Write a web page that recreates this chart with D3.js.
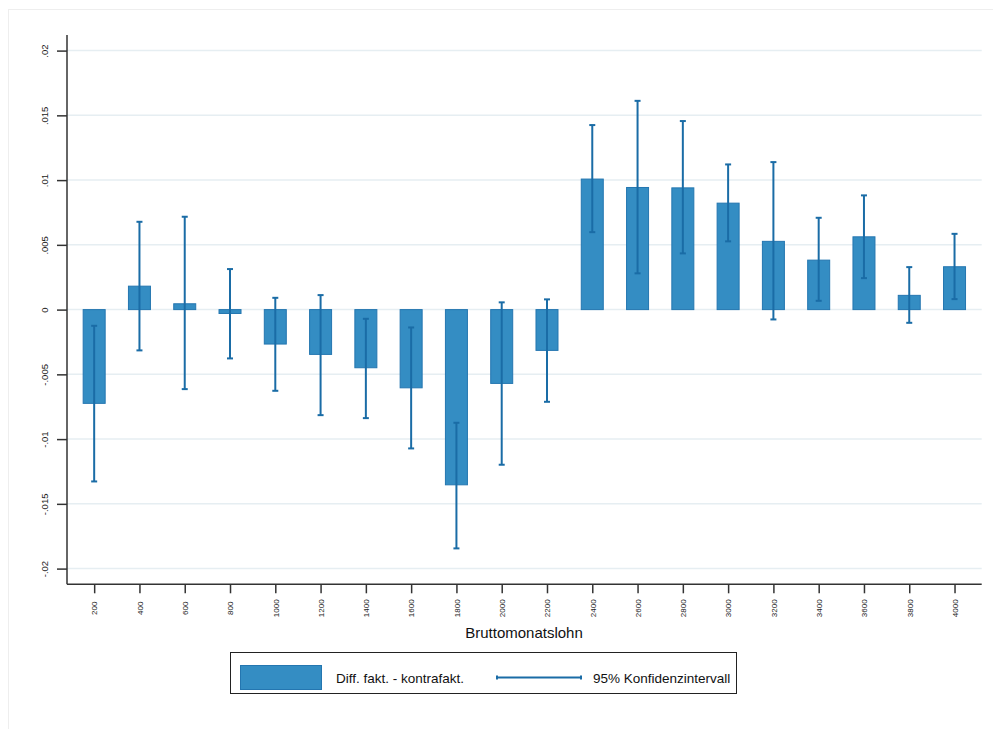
<!DOCTYPE html>
<html><head><meta charset="utf-8">
<script src="https://cdn.jsdelivr.net/npm/d3@7"></script>
<style>body{margin:0;background:#fff}svg{display:block;font-family:"Liberation Sans",Arial,sans-serif}</style>
</head><body>
<script>
const categories = ["200","400","600","800","1000","1200","1400","1600","1800","2000","2200","2400","2600","2800","3000","3200","3400","3600","3800","4000"];
const diffValues = [-0.00724,0.00181,0.00045,-0.0003,-0.00266,-0.00346,-0.00449,-0.00604,-0.01353,-0.0057,-0.00315,0.01008,0.00943,0.0094,0.00822,0.00527,0.00382,0.00562,0.0011,0.00331];
const ciUpper = [-0.00125,0.00678,0.00717,0.00313,0.00091,0.00112,-0.00071,-0.00138,-0.00874,0.00056,0.00079,0.01425,0.01612,0.01456,0.01121,0.01139,0.00709,0.00882,0.00328,0.00585];
const ciLower = [-0.01327,-0.00315,-0.00614,-0.00377,-0.00627,-0.00815,-0.00838,-0.01072,-0.01844,-0.01198,-0.00712,0.00598,0.0028,0.00434,0.00527,-0.00076,0.00068,0.00243,-0.00102,0.00081];
const yTicks = [-0.02,-0.015,-0.01,-0.005,0,0.005,0.01,0.015,0.02];
const yTickLabels = ["-.02","-.015","-.01","-.005","0",".005",".01",".015",".02"];
const xTitle = "Bruttomonatslohn";
const legendLabels = ["Diff. fakt. - kontrafakt.","95% Konfidenzintervall"];

const W = 993, H = 729;
const L = 67, R = 981.7, T = 35, B = 584.3;
const barFill = "#348dc3", barStroke = "#2476b0", ciColor = "#1a6ca6";

const svg = d3.select("body").append("svg").attr("width", W).attr("height", H);
svg.append("rect").attr("x",8.5).attr("y",9.5).attr("width",1100).attr("height",1000)
  .attr("fill","none").attr("stroke","#eeeeee");

const x = d3.scalePoint().domain(categories).range([L, R]).padding(0.6);
const y = d3.scaleLinear().domain([-0.02, 0.02]).range([568.6, 50.6]);

// gridlines
svg.append("g").selectAll("line").data(yTicks).join("line")
  .attr("x1", L).attr("x2", R).attr("y1", d=>y(d)).attr("y2", d=>y(d))
  .attr("stroke","#e6eef2").attr("stroke-width",1.5);

const data = categories.map((c,i)=>({c, v:diffValues[i], hi:ciUpper[i], lo:ciLower[i]}));
const bw = 22;
svg.append("g").selectAll("rect").data(data).join("rect")
  .attr("x", d=>x(d.c)-bw/2).attr("width", bw)
  .attr("y", d=>Math.min(y(d.v), y(0))).attr("height", d=>Math.max(Math.abs(y(d.v)-y(0)),1))
  .attr("fill", barFill).attr("stroke", barStroke).attr("stroke-width",1);

const ci = svg.append("g").attr("stroke", ciColor);
ci.selectAll("line.v").data(data).join("line").attr("class","v")
  .attr("x1", d=>x(d.c)).attr("x2", d=>x(d.c)).attr("y1", d=>y(d.hi)).attr("y2", d=>y(d.lo))
  .attr("stroke-width",2);
["hi","lo"].forEach(k=>{
  ci.selectAll("line."+k).data(data).join("line").attr("class",k)
    .attr("x1", d=>x(d.c)-3).attr("x2", d=>x(d.c)+3).attr("y1", d=>y(d[k])).attr("y2", d=>y(d[k]))
    .attr("stroke-width",2);
});

// axes
const yAxis = svg.append("g").attr("transform",`translate(${L},0)`)
  .call(d3.axisLeft(y).tickValues(yTicks).tickSize(10).tickFormat((d,i)=>yTickLabels[i]));
yAxis.select(".domain").attr("d",`M0,${T}V${B}`).attr("stroke","#333").attr("stroke-width",1.5);
yAxis.selectAll(".tick line").attr("stroke","#333").attr("stroke-width",1.5);
yAxis.selectAll(".tick text").attr("transform","rotate(-90)").attr("x",0).attr("y",-22)
  .attr("dy","0.35em").attr("text-anchor","middle").attr("font-size",9.5).attr("fill","#222");

const xAxis = svg.append("g").attr("transform",`translate(0,${B})`)
  .call(d3.axisBottom(x).tickSize(9));
xAxis.select(".domain").attr("d",`M${L},0H${R}`).attr("stroke","#333").attr("stroke-width",1.5);
xAxis.selectAll(".tick line").attr("stroke","#333").attr("stroke-width",1.5);
xAxis.selectAll(".tick text").attr("transform","rotate(-90)").attr("x",-24).attr("y",0)
  .attr("dy","0.35em").attr("text-anchor","middle").attr("font-size",8).attr("fill","#222");

svg.append("text").attr("x",524).attr("y",638).attr("text-anchor","middle")
  .attr("font-size",15).attr("fill","#111").text(xTitle);

// legend
const lg = svg.append("g");
lg.append("rect").attr("x",230.5).attr("y",652.5).attr("width",506).attr("height",41)
  .attr("fill","#fff").attr("stroke","#222").attr("stroke-width",1);
lg.append("rect").attr("x",240.5).attr("y",665.5).attr("width",81).attr("height",24)
  .attr("fill",barFill).attr("stroke",barStroke);
lg.append("text").attr("x",336).attr("y",678).attr("dy","0.35em").attr("font-size",13.5).attr("fill","#111").text(legendLabels[0]);
lg.append("line").attr("x1",497).attr("x2",581).attr("y1",677.5).attr("y2",677.5).attr("stroke",ciColor).attr("stroke-width",2);
[497,581].forEach(px=>lg.append("line").attr("x1",px).attr("x2",px).attr("y1",675.5).attr("y2",679.5).attr("stroke",ciColor).attr("stroke-width",2));
lg.append("text").attr("x",593).attr("y",678).attr("dy","0.35em").attr("font-size",13.5).attr("fill","#111").text(legendLabels[1]);
</script>
</body></html>
